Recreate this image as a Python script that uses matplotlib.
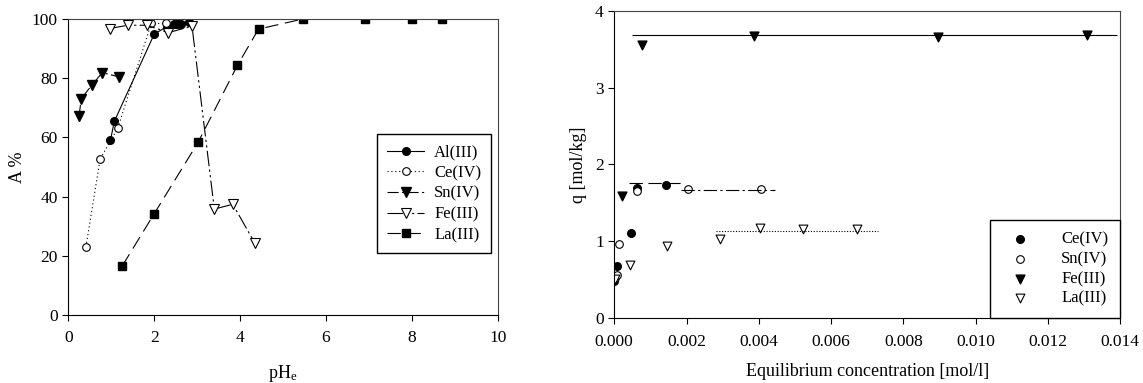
import matplotlib.pyplot as plt
import matplotlib as mpl

mpl.rcParams['font.family'] = ['Liberation Serif', 'DejaVu Serif']
mpl.rcParams['mathtext.fontset'] = 'custom'
mpl.rcParams['mathtext.rm'] = 'Liberation Serif'
mpl.rcParams['mathtext.it'] = 'Liberation Serif'

# left panel: A % vs pHe
al_ph = [0.98, 1.07, 2.00, 2.29, 2.46, 2.53, 2.58, 2.63, 2.81]
al_a = [59.0, 65.4, 94.9, 97.4, 98.4, 98.3, 98.3, 98.2, 99.1]
ce_ph = [0.41, 0.74, 1.15, 1.93, 2.27]
ce_a = [23.1, 52.7, 63.1, 98.5, 98.5]
sn_ph = [0.25, 0.30, 0.55, 0.79, 1.17]
sn_a = [67.2, 73.1, 77.7, 81.9, 80.5]
fe_ph = [0.97, 1.38, 1.83, 2.33, 2.88, 3.40, 3.83, 4.34]
fe_a = [96.8, 97.9, 97.9, 95.4, 97.6, 35.8, 37.4, 24.4]
la_ph = [1.26, 1.99, 3.02, 3.94, 4.43, 5.46, 6.92, 8.00, 8.70]
la_a = [16.7, 34.0, 58.3, 84.4, 96.6, 100.0, 100.0, 100.0, 100.0]

# right panel: q vs equilibrium concentration
ce_c = [0.0, 0.00007, 0.00045, 0.00064, 0.00142]
ce_q = [0.485, 0.68, 1.11, 1.70, 1.73]
sn_c = [0.00002, 0.00008, 0.00013, 0.00064, 0.00205, 0.00406]
sn_q = [0.53, 0.56, 0.97, 1.65, 1.68, 1.68]
fe_c = [0.00022, 0.00077, 0.00386, 0.00897, 0.01307]
fe_q = [1.59, 3.56, 3.67, 3.66, 3.69]
la_c = [0.00001, 0.00043, 0.00145, 0.00293, 0.00404, 0.00523, 0.00673]
la_q = [0.515, 0.69, 0.94, 1.035, 1.17, 1.16, 1.16]

# plateau levels and ranges of the fitted lines
plateau_q = {'Ce(IV)': 1.76, 'Sn(IV)': 1.67, 'Fe(III)': 3.69, 'La(III)': 1.14}
plateau_x = {'Ce(IV)': (0.00041, 0.00193), 'Sn(IV)': (0.00184, 0.00445),
             'Fe(III)': (0.0005, 0.0139), 'La(III)': (0.00281, 0.00729)}

fig = plt.figure(figsize=(11.43, 3.83), dpi=100)
ax1 = fig.add_axes([0.0598, 0.1775, 0.3756, 0.7728])
ax2 = fig.add_axes([0.5374, 0.169, 0.4426, 0.803])

lw = 0.8
ms = 5.5
ax1.plot(al_ph, al_a, color='black', lw=lw, ls='-', marker='o', ms=ms,
         mfc='black', mec='black', label='Al(III)')
ax1.plot(ce_ph, ce_a, color='black', lw=lw, ls=(0, (1, 2.5)), marker='o', ms=ms,
         mfc='white', mec='black', mew=0.8, label='Ce(IV)')
ax1.plot(sn_ph, sn_a, color='black', lw=lw, ls=(0, (10, 3, 2, 3)), marker='v', ms=ms + 1,
         mfc='black', mec='black', label='Sn(IV)')
ax1.plot(fe_ph, fe_a, color='black', lw=lw, ls=(0, (14, 3, 2, 3, 2, 3)), marker='v', ms=ms + 1,
         mfc='white', mec='black', mew=0.8, label='Fe(III)')
ax1.plot(la_ph, la_a, color='black', lw=lw, ls=(0, (12, 6)), marker='s', ms=ms,
         mfc='black', mec='black', label='La(III)')

ax1.set_xlim(0, 10)
ax1.set_ylim(0, 100)
ax1.set_xticks(range(0, 11, 2))
ax1.set_yticks(range(0, 101, 20))
ax1.set_xlabel('pH$_\\mathregular{e}$', fontsize=13, labelpad=12)
ax1.set_ylabel('A %', fontsize=13, labelpad=4)
ax1.legend(loc='upper right', bbox_to_anchor=(0.985, 0.61), borderaxespad=0,
           fontsize=12, handlelength=2.2, frameon=True, fancybox=False,
           edgecolor='black', framealpha=1, borderpad=0.6, labelspacing=0.28,
           handletextpad=0.6)

ax2.scatter(ce_c, ce_q, s=30, marker='o', facecolor='black', edgecolor='black', label='Ce(IV)')
ax2.scatter(sn_c, sn_q, s=30, marker='o', facecolor='white', edgecolor='black', lw=0.8, label='Sn(IV)')
ax2.scatter(fe_c, fe_q, s=40, marker='v', facecolor='black', edgecolor='black', label='Fe(III)')
ax2.scatter(la_c, la_q, s=40, marker='v', facecolor='white', edgecolor='black', lw=0.8, label='La(III)')

styles = {'Ce(IV)': (0, (12, 5)), 'Sn(IV)': (0, (12, 3, 2, 3)),
          'Fe(III)': '-', 'La(III)': (0, (1, 1.5))}
for key in plateau_q:
    ax2.hlines(plateau_q[key], plateau_x[key][0], plateau_x[key][1],
               colors='black', lw=lw, linestyles=styles[key])

ax2.set_xlim(0, 0.014)
ax2.set_ylim(0, 4)
ax2.set_xticks([i * 0.002 for i in range(8)])
ax2.set_xticklabels(['%.3f' % (i * 0.002) for i in range(8)])
ax2.set_yticks(range(0, 5))
ax2.set_xlabel('Equilibrium concentration [mol/l]', fontsize=13, labelpad=10)
ax2.set_ylabel('q [mol/kg]', fontsize=13, labelpad=6)
ax2.legend(loc='lower right', borderaxespad=0, fontsize=12, frameon=True,
           fancybox=False, edgecolor='black', framealpha=1, borderpad=0.7,
           labelspacing=0.22, handletextpad=1.4, handlelength=2.2, scatterpoints=1)

for ax in (ax1, ax2):
    ax.tick_params(direction='out', length=4, width=0.8, labelsize=12.5, colors='black')
    ax.tick_params(axis='x', pad=7)
    for s in ax.spines.values():
        s.set_linewidth(0.8)
        s.set_color('black')
    ax.spines['top'].set_color('#444444')
    ax.spines['right'].set_color('#444444')

fig.savefig('out.png', dpi=100)
